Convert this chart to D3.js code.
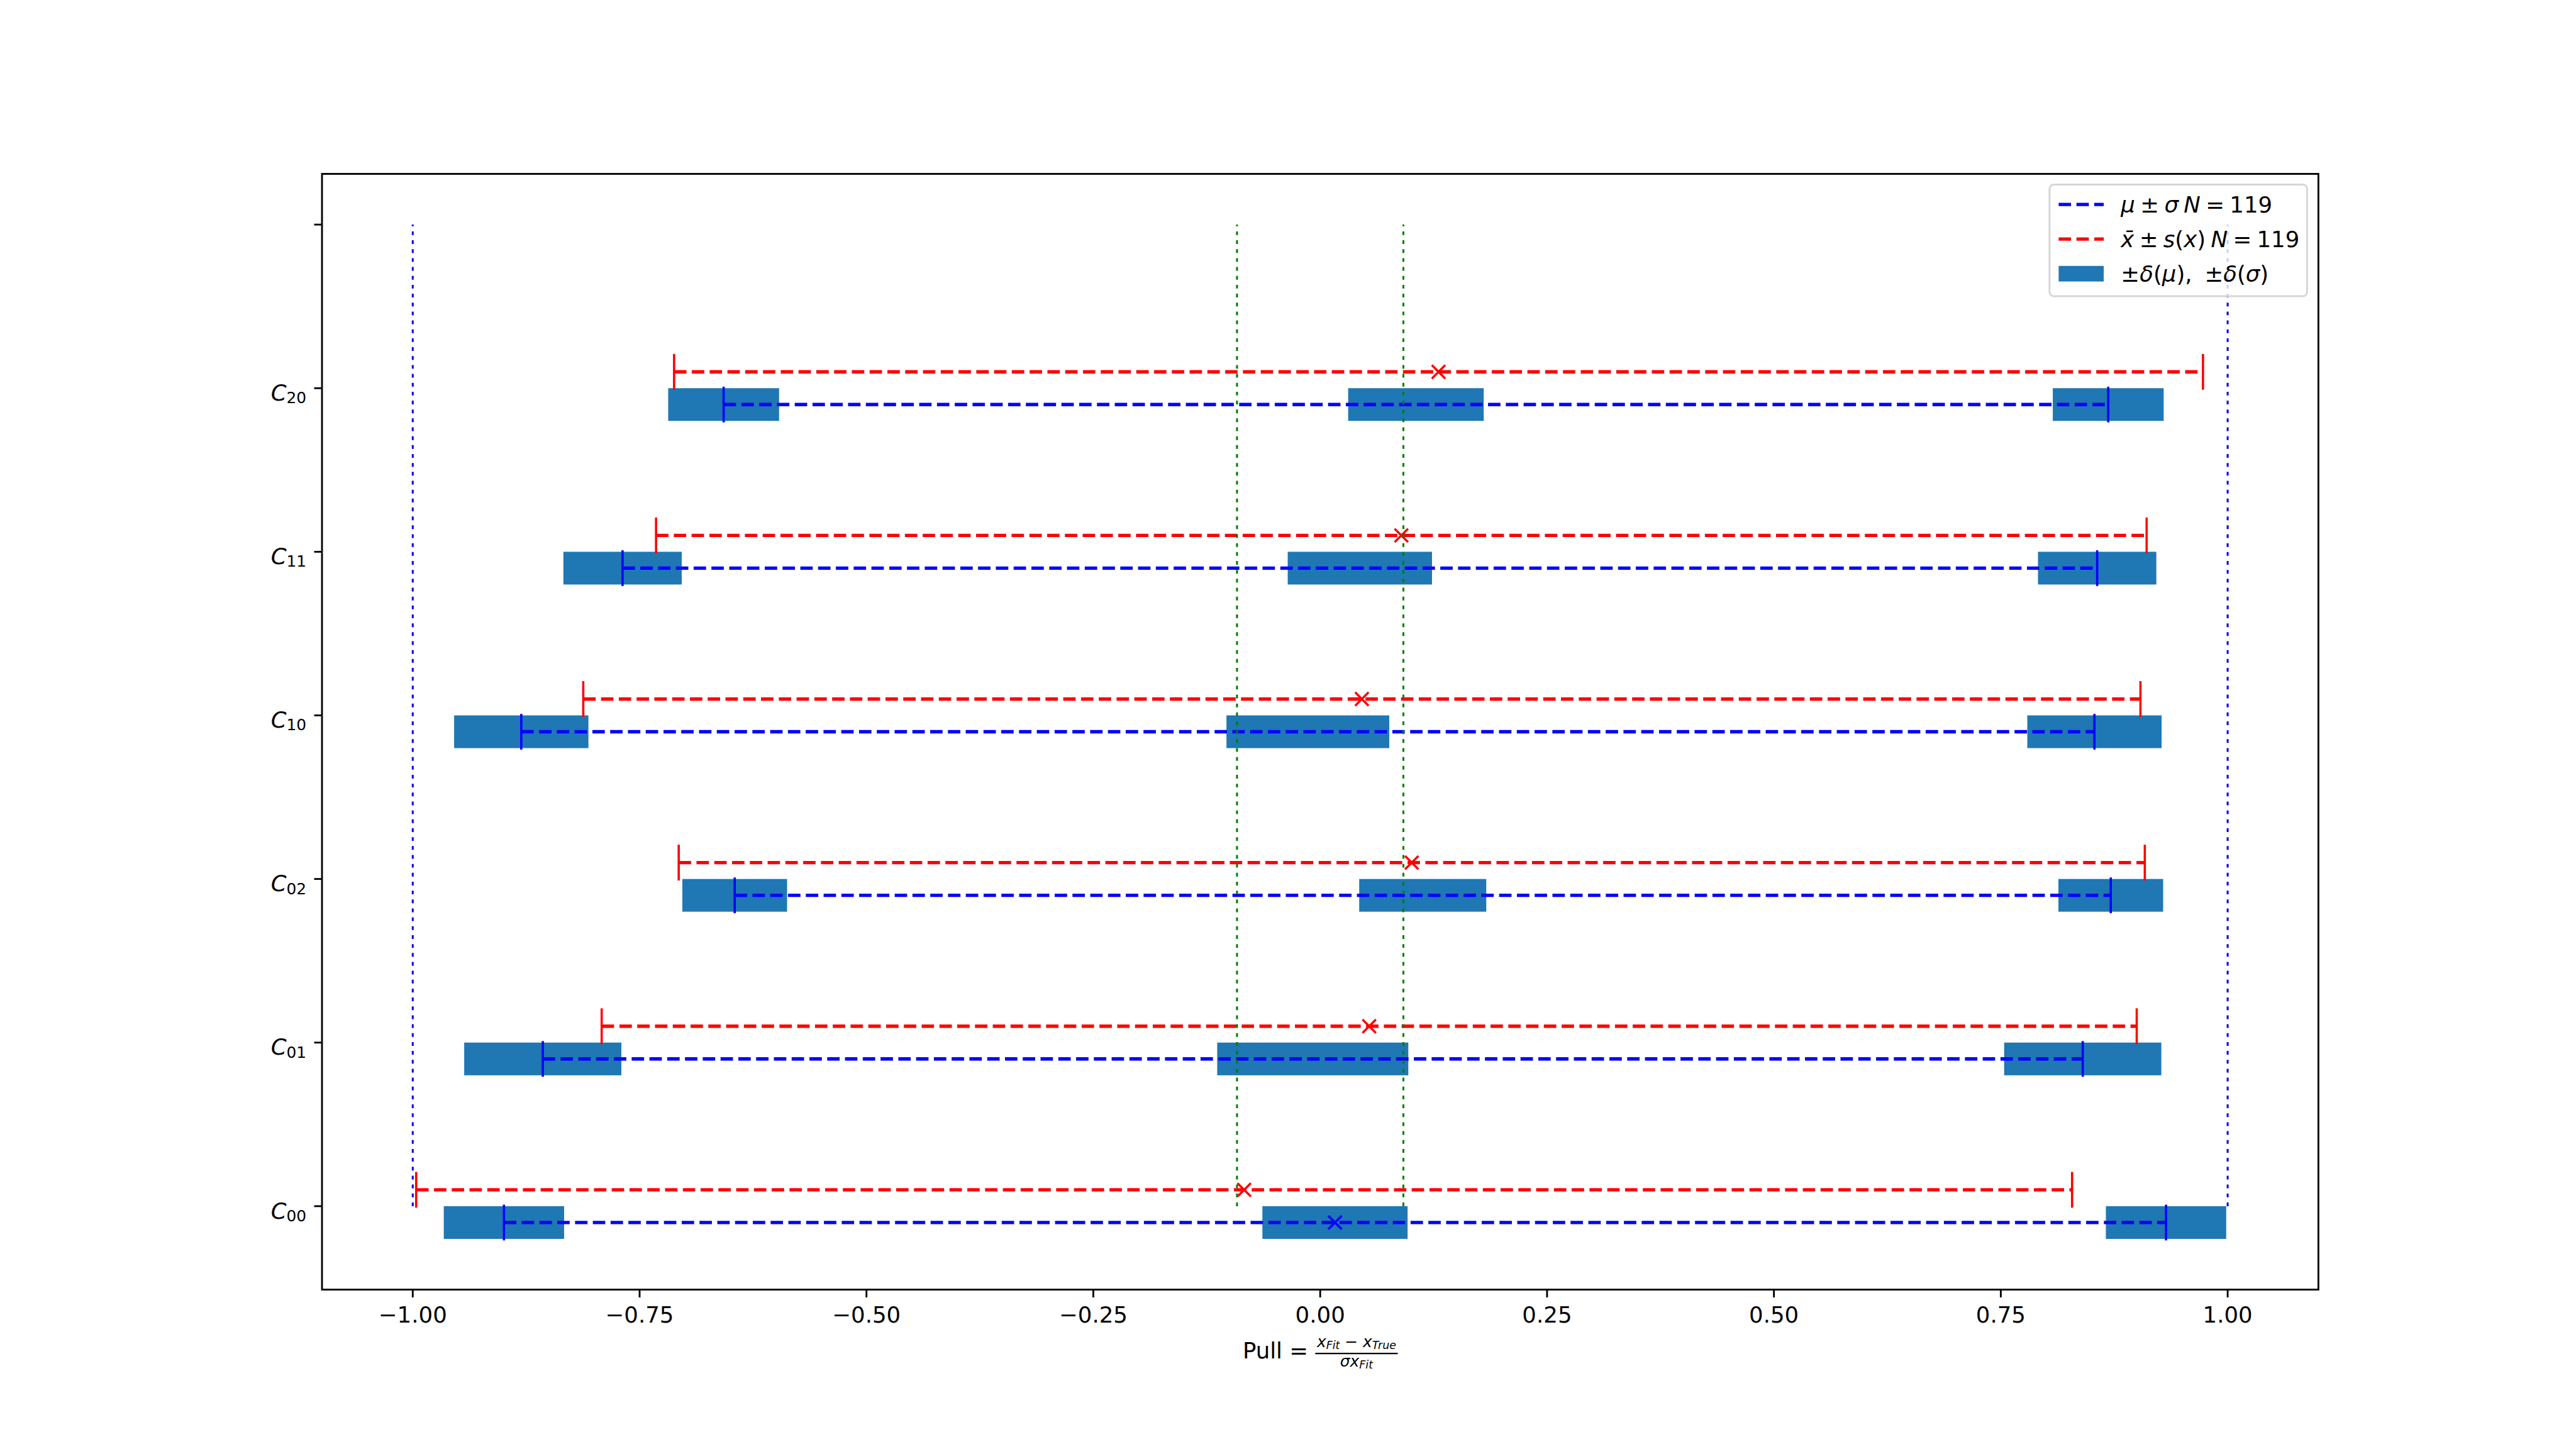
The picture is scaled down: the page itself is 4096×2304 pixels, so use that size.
<!DOCTYPE html>
<html><head><meta charset="utf-8">
<script src="https://cdn.jsdelivr.net/npm/d3@7"></script>
<style>html,body{margin:0;padding:0;background:#fff;overflow:hidden;} svg{display:block;} text{font-family:"DejaVu Sans";}</style>
</head><body>
<script>
// ---- data ----
const categories = ["00", "01", "02", "10", "11", "20"];
const mu      = [0.0163, -0.0082, 0.1130, -0.0136, 0.0437, 0.1055];
const sigma   = [0.9158, 0.8485, 0.7582, 0.8668, 0.8125, 0.7629];
const dMu     = [0.0800, 0.1053, 0.0700, 0.0897, 0.0795, 0.0747];
const dSigma  = [0.0663, 0.0866, 0.0577, 0.0740, 0.0652, 0.0611];
const xbar    = [-0.0838, 0.0540, 0.1009, 0.0459, 0.0894, 0.1304];
const sx      = [0.9124, 0.8458, 0.8078, 0.8580, 0.8213, 0.8424];
const blueMarkerRows = [0];
const N = 119;
const xTicks = [-1, -0.75, -0.5, -0.25, 0, 0.25, 0.5, 0.75, 1];
const yTicks = [0, 1, 2, 3, 4, 5, 6];
const yTickLabels = ["00", "01", "02", "10", "11", "20", ""];

// ---- layout in reference pixels, scaled to window ----
const S = 4096 / 4800;
const PT = 300 / 72;
const FS = 10 * PT;
const L = 600, R = 4320, T = 324, B = 2403;

const svg = d3.select("body").append("svg").attr("width", 4096).attr("height", 2304);
svg.append("rect").attr("width", 4096).attr("height", 2304).attr("fill", "#fff");
const g = svg.append("g").attr("transform", `scale(${S})`);

const x = d3.scaleLinear().domain([-1.1, 1.1]).range([L, R]);
const y = d3.scaleLinear().domain([-0.51, 6.31]).range([B, T]);

const rows = categories.map((c, i) => ({i, c, mu: mu[i], s: sigma[i], dm: dMu[i], ds: dSigma[i], xb: xbar[i], sx: sx[i]}));

// bars
const barData = [];
rows.forEach(r => {
  barData.push({lo: r.mu - r.dm, hi: r.mu + r.dm, i: r.i});
  barData.push({lo: r.mu - r.s - r.ds, hi: r.mu - r.s + r.ds, i: r.i});
  barData.push({lo: r.mu + r.s - r.ds, hi: r.mu + r.s + r.ds, i: r.i});
});
g.append("g").selectAll("rect").data(barData).join("rect")
  .attr("x", d => x(d.lo)).attr("width", d => x(d.hi) - x(d.lo))
  .attr("y", d => y(d.i)).attr("height", d => y(d.i - 0.2) - y(d.i))
  .attr("fill", "#1f77b4");

const LW = 1.5 * PT, MEW = 1 * PT, CAP = 8 * PT, XM = 3 * PT;
const dash = `${3.7 * LW},${1.6 * LW}`;

function rangeLine(sel, lo, hi, yy, color) {
  sel.append("line").attr("x1", x(lo)).attr("x2", x(hi)).attr("y1", y(yy)).attr("y2", y(yy))
    .attr("stroke", color).attr("stroke-width", LW).attr("stroke-dasharray", dash);
  [lo, hi].forEach(v => sel.append("line").attr("x1", x(v)).attr("x2", x(v))
    .attr("y1", y(yy) - CAP).attr("y2", y(yy) + CAP).attr("stroke", color).attr("stroke-width", MEW));
}
function xMarker(sel, v, yy, color) {
  const cx = x(v), cy = y(yy);
  sel.append("path").attr("d", `M${cx - XM},${cy - XM}L${cx + XM},${cy + XM}M${cx - XM},${cy + XM}L${cx + XM},${cy - XM}`)
    .attr("stroke", color).attr("stroke-width", MEW).attr("fill", "none");
}
const lines = g.append("g");
rows.forEach(r => {
  rangeLine(lines, r.mu - r.s, r.mu + r.s, r.i - 0.1, "#0000ff");
  if (blueMarkerRows.includes(r.i)) xMarker(lines, r.mu, r.i - 0.1, "#0000ff");
  rangeLine(lines, r.xb - r.sx, r.xb + r.sx, r.i + 0.1, "#ff0000");
  xMarker(lines, r.xb, r.i + 0.1, "#ff0000");
});

// reference vertical lines
const vlines = [{v: -1, c: "#0000ff"}, {v: 1, c: "#0000ff"}, {v: -1 / Math.sqrt(N), c: "#008000"}, {v: 1 / Math.sqrt(N), c: "#008000"}];
g.append("g").selectAll("line").data(vlines).join("line")
  .attr("x1", d => x(d.v)).attr("x2", d => x(d.v)).attr("y1", y(0)).attr("y2", y(6))
  .attr("stroke", d => d.c).attr("stroke-width", 3.6).attr("stroke-dasharray", "7,9.6");

// axes frame
const AW = 0.8 * PT;
g.append("rect").attr("x", L).attr("y", T).attr("width", R - L).attr("height", B - T)
  .attr("fill", "none").attr("stroke", "#000").attr("stroke-width", AW);

// x axis
const fmt = d3.format(".2f");
const xa = g.append("g");
xTicks.forEach(t => {
  xa.append("line").attr("x1", x(t)).attr("x2", x(t)).attr("y1", B).attr("y2", B + 3.5 * PT)
    .attr("stroke", "#000").attr("stroke-width", AW);
  xa.append("text").attr("x", x(t)).attr("y", B + 62).attr("text-anchor", "middle")
    .attr("font-size", FS).text(fmt(t).replace("-", "\u2212"));
});
// y axis
const ya = g.append("g");
yTicks.forEach((t, k) => {
  ya.append("line").attr("x1", L - 3.5 * PT).attr("x2", L).attr("y1", y(t)).attr("y2", y(t))
    .attr("stroke", "#000").attr("stroke-width", AW);
  if (yTickLabels[k]) {
    const tx = ya.append("text").attr("x", L - 7 * PT).attr("y", y(t) + 23).attr("text-anchor", "end").attr("font-size", FS);
    tx.append("tspan").attr("font-style", "italic").text("C");
    tx.append("tspan").attr("font-size", FS * 0.7).attr("dy", 5).text(yTickLabels[k]);
  }
});

// x label: Pull = (x_Fit - x_True)/(sigma x_Fit)
const xl = g.append("g");
const FF = FS * 0.7, FSub = FS * 0.49;
const pull = xl.append("text").attr("y", 2531).attr("font-size", FS).attr("xml:space", "preserve").text("Pull = ");
const num = xl.append("text").attr("y", 2510).attr("font-size", FF).attr("text-anchor", "middle");
num.append("tspan").attr("font-style", "italic").text("x");
num.append("tspan").attr("font-style", "italic").attr("font-size", FSub).attr("dy", 4).text("Fit");
num.append("tspan").attr("dy", -4).text(" \u2212 ");
num.append("tspan").attr("font-style", "italic").text("x");
num.append("tspan").attr("font-style", "italic").attr("font-size", FSub).attr("dy", 4).text("True");
const den = xl.append("text").attr("y", 2546).attr("font-size", FF).attr("text-anchor", "middle");
den.append("tspan").attr("font-style", "italic").text("\u03c3x");
den.append("tspan").attr("font-style", "italic").attr("font-size", FSub).attr("dy", 4).text("Fit");
const wP = pull.node().getComputedTextLength();
const wF = Math.max(num.node().getComputedTextLength(), den.node().getComputedTextLength()) + 6;
const x0 = (L + R) / 2 - (wP + wF) / 2;
pull.attr("x", x0);
const fc = x0 + wP + wF / 2;
num.attr("x", fc); den.attr("x", fc);
xl.append("line").attr("x1", x0 + wP).attr("x2", x0 + wP + wF).attr("y1", 2522).attr("y2", 2522)
  .attr("stroke", "#000").attr("stroke-width", 2.5);

// legend
const lg = g.append("g");
lg.append("rect").attr("x", 3819).attr("y", 344).attr("width", 480).attr("height", 208).attr("rx", 8)
  .attr("fill", "#fff").attr("fill-opacity", 0.8).attr("stroke", "#d6d6d6").attr("stroke-width", 3.4);
const legendItems = [
  {type: "line", color: "#0000ff", ws: -3.5, parts: [["\u03bc", 1], [" \u00b1 ", 0], ["\u03c3", 1], [" ", 0], ["N", 1], [" = 119", 0]]},
  {type: "line", color: "#ff0000", ws: -3.5, parts: [["x\u0304", 1], [" \u00b1 ", 0], ["s", 1], ["(", 0], ["x", 1], [") ", 0], ["N", 1], [" = 119", 0]]},
  {type: "patch", color: "#1f77b4", ws: 10, parts: [["\u00b1", 0], ["\u03b4", 1], ["(", 0], ["\u03bc", 1], ["), \u00b1", 0], ["\u03b4", 1], ["(", 0], ["\u03c3", 1], [")", 0]]}
];
legendItems.forEach((it, k) => {
  const by = 396 + k * 64.5;
  const cy = by - 15;
  if (it.type === "line") {
    lg.append("line").attr("x1", 3836).attr("x2", 3920).attr("y1", cy).attr("y2", cy)
      .attr("stroke", it.color).attr("stroke-width", LW).attr("stroke-dasharray", dash);
  } else {
    lg.append("rect").attr("x", 3836).attr("y", cy - 14.5).attr("width", 84).attr("height", 29).attr("fill", it.color);
  }
  const t = lg.append("text").attr("x", 3952).attr("y", by).attr("font-size", FS)
    .attr("xml:space", "preserve").attr("word-spacing", it.ws);
  it.parts.forEach(p => t.append("tspan").attr("font-style", p[1] ? "italic" : "normal").text(p[0]));
});
</script>
</body></html>
